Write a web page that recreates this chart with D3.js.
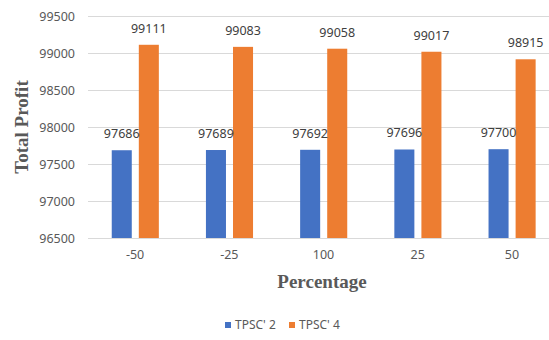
<!DOCTYPE html>
<html>
<head>
<meta charset="utf-8">
<script src="https://cdn.jsdelivr.net/npm/d3@7"></script>
<style>
  html, body { margin: 0; padding: 0; background: #fff; }
  svg { display: block; }
</style>
</head>
<body>
<svg id="chart" width="549" height="340"></svg>
<script>
// Total profit by percentage change, two TPSC configurations
const categories = ["-50", "-25", "100", "25", "50"];
const seriesNames = ["TPSC' 2", "TPSC' 4"];
const tpsc2 = [97686, 97689, 97692, 97696, 97700];
const tpsc4 = [99111, 99083, 99058, 99017, 98915];
const yTicks = [96500, 97000, 97500, 98000, 98500, 99000, 99500];
const colors = ["#4472C4", "#ED7D31"];

const svg = d3.select("#chart");
const W = 549, H = 340;
const plot = { left: 88, right: 559, top: 16, bottom: 238 };

const x = d3.scaleBand().domain(categories).range([plot.left, plot.right]).padding(0);
const inner = d3.scaleBand().domain(seriesNames)
  .range([x.bandwidth() * 0.252, x.bandwidth() * 0.752]).paddingInner(0.26);
const y = d3.scaleLinear().domain([96500, 99500]).range([plot.bottom, plot.top]);

const textColor = "#595959";
const font = "'Noto Sans', 'Open Sans', sans-serif";

// gridlines
svg.append("g")
  .selectAll("line")
  .data(yTicks)
  .join("line")
  .attr("x1", plot.left).attr("x2", W)
  .attr("y1", d => Math.round(y(d)) + 0.5).attr("y2", d => Math.round(y(d)) + 0.5)
  .attr("stroke", "#d9d9d9").attr("stroke-width", 1);

// y axis labels
const yAxis = svg.append("g")
  .attr("transform", `translate(${plot.left - 13},0)`)
  .call(d3.axisLeft(y).tickValues(yTicks).tickSize(0).tickPadding(0).tickFormat(d3.format("d")));
yAxis.select(".domain").remove();
yAxis.selectAll("text")
  .attr("fill", textColor).attr("font-family", font).attr("font-size", "12.5px");

// x axis labels
const xAxis = svg.append("g")
  .attr("transform", `translate(0,${plot.bottom})`)
  .call(d3.axisBottom(x).tickSize(0).tickPadding(12));
xAxis.select(".domain").attr("stroke", "#d9d9d9");
xAxis.selectAll("text")
  .attr("fill", textColor).attr("font-family", font).attr("font-size", "12.5px");

// bars
const rows = categories.map((c, i) => ({ cat: c, values: [tpsc2[i], tpsc4[i]] }));
const groups = svg.append("g")
  .selectAll("g")
  .data(rows)
  .join("g")
  .attr("transform", d => `translate(${x(d.cat)},0)`);

groups.selectAll("rect")
  .data(d => d.values.map((v, k) => ({ key: seriesNames[k], v, k })))
  .join("rect")
  .attr("x", d => inner(d.key))
  .attr("width", inner.bandwidth())
  .attr("y", d => y(d.v))
  .attr("height", d => plot.bottom - y(d.v))
  .attr("fill", d => colors[d.k]);

groups.selectAll("text.val")
  .data(d => d.values.map((v, k) => ({ key: seriesNames[k], v, k })))
  .join("text")
  .attr("class", "val")
  .attr("x", d => inner(d.key) + inner.bandwidth() / 2)
  .attr("y", d => y(d.v) - 12)
  .attr("text-anchor", "middle")
  .attr("fill", "#404040")
  .attr("font-family", font).attr("font-size", "12.5px")
  .text(d => d.v);

// axis titles
svg.append("text")
  .attr("transform", "translate(28,127) rotate(-90)")
  .attr("text-anchor", "middle")
  .attr("fill", textColor)
  .attr("font-family", "'Liberation Serif', 'Times New Roman', serif")
  .attr("font-weight", "bold").attr("font-size", "19px")
  .text("Total Profit");

svg.append("text")
  .attr("x", 322).attr("y", 288)
  .attr("text-anchor", "middle")
  .attr("fill", textColor)
  .attr("font-family", "'Liberation Serif', 'Times New Roman', serif")
  .attr("font-weight", "bold").attr("font-size", "19px")
  .text("Percentage");

// legend
const legend = svg.append("g").attr("transform", "translate(225,329)");
const legendX = [0, 64];
seriesNames.forEach((name, k) => {
  const g = legend.append("g").attr("transform", `translate(${legendX[k]},0)`);
  g.append("rect").attr("x", 0).attr("y", -7).attr("width", 6).attr("height", 6).attr("fill", colors[k]);
  g.append("text").attr("x", 10).attr("y", 0)
    .attr("fill", textColor).attr("font-family", font).attr("font-size", "12px")
    .text(name);
});
</script>
</body>
</html>
